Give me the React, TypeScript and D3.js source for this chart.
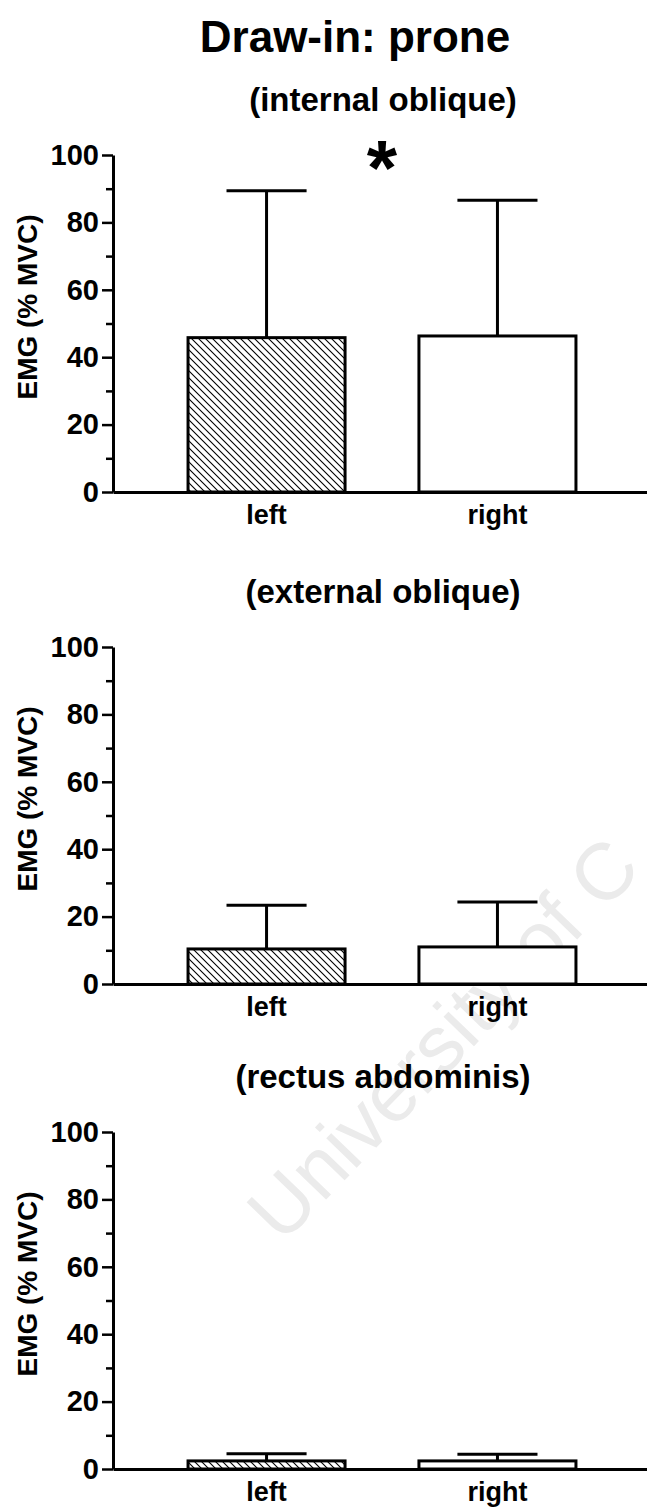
import React, { useEffect, useRef } from 'react';
import * as d3 from 'd3';

const categories = ['left', 'right'];
const muscles = ['(internal oblique)', '(external oblique)', '(rectus abdominis)'];
const leftMean = [45.8, 10.4, 2.4];
const leftErr = [43.6, 13.0, 2.1];
const rightMean = [46.3, 11.0, 2.4];
const rightErr = [40.3, 13.3, 2.0];
const majorTicks = [0, 20, 40, 60, 80, 100];
const minorTicks = [10, 30, 50, 70, 90];
const significant = [true, false, false];

const W = 647;
const H = 1510;
const FONT = '"Liberation Sans", Arial, Helvetica, sans-serif';

const App: React.FC = () => {
  const ref = useRef<SVGSVGElement>(null);

  useEffect(() => {
    const svg = d3.select(ref.current);
    svg.selectAll('*').remove();

    // hatch for the "left" bars
    const defs = svg.append('defs');
    defs.append('pattern')
      .attr('id', 'hatch')
      .attr('patternUnits', 'userSpaceOnUse')
      .attr('width', 7)
      .attr('height', 7)
      .append('path')
      .attr('d', 'M-1,-1 L8,8 M-1,6 L1,8 M6,-1 L8,1')
      .attr('stroke', '#000')
      .attr('stroke-width', 1.1);

    // scan watermark
    svg.append('text')
      .attr('transform', 'translate(282,1245) rotate(-46)')
      .attr('font-family', FONT)
      .attr('font-size', 80)
      .attr('fill', '#ebebeb')
      .text('University of C');

    svg.append('text')
      .attr('x', 355)
      .attr('y', 52)
      .attr('text-anchor', 'middle')
      .attr('font-family', FONT)
      .attr('font-weight', 'bold')
      .attr('font-size', 44)
      .text('Draw-in: prone');

    const baselines = [492, 984, 1469];
    const x = d3.scaleBand<string>()
      .domain(categories)
      .range([113, 651])
      .paddingInner(0.32)
      .paddingOuter(0.325);

    muscles.forEach((m, i) => {
      const y0 = baselines[i];
      const y = d3.scaleLinear().domain([0, 100]).range([y0, y0 - 337]);
      const g = svg.append('g');

      g.append('text')
        .attr('x', 383)
        .attr('y', y(100) - 44)
        .attr('text-anchor', 'middle')
        .attr('font-family', FONT)
        .attr('font-weight', 'bold')
        .attr('font-size', 33)
        .text(m);

      const data = [
        { cat: categories[0], mean: leftMean[i], err: leftErr[i], hatch: true },
        { cat: categories[1], mean: rightMean[i], err: rightErr[i], hatch: false },
      ];

      // error bars (upper only)
      data.forEach(d => {
        const cx = x(d.cat)! + x.bandwidth() / 2;
        const half = x.bandwidth() * 0.255;
        g.append('line')
          .attr('x1', cx).attr('x2', cx)
          .attr('y1', y(d.mean)).attr('y2', y(d.mean + d.err))
          .attr('stroke', '#000').attr('stroke-width', 3);
        g.append('line')
          .attr('x1', cx - half).attr('x2', cx + half)
          .attr('y1', y(d.mean + d.err)).attr('y2', y(d.mean + d.err))
          .attr('stroke', '#000').attr('stroke-width', 3);
      });

      g.selectAll('rect.bar')
        .data(data)
        .join('rect')
        .attr('class', 'bar')
        .attr('x', d => x(d.cat)!)
        .attr('y', d => y(d.mean))
        .attr('width', x.bandwidth())
        .attr('height', d => y(0) - y(d.mean))
        .attr('fill', d => (d.hatch ? 'url(#hatch)' : '#fff'))
        .attr('stroke', '#000')
        .attr('stroke-width', 3);

      // minor ticks
      const minor = g.append('g')
        .attr('transform', 'translate(113,0)')
        .call(d3.axisLeft(y).tickValues(minorTicks).tickSize(7).tickSizeOuter(0).tickFormat(() => ''));
      minor.select('.domain').remove();
      minor.selectAll('line').attr('stroke-width', 2.5);

      const yAxis = g.append('g')
        .attr('transform', 'translate(113,0)')
        .call(d3.axisLeft(y).tickValues(majorTicks).tickSize(11).tickSizeOuter(0).tickPadding(3));
      yAxis.select('.domain').attr('stroke-width', 3);
      yAxis.selectAll('line').attr('stroke-width', 2.5);
      yAxis.selectAll('text')
        .attr('font-family', FONT)
        .attr('font-weight', 'bold')
        .attr('font-size', 29)
        .attr('fill', '#000');

      const xAxis = g.append('g')
        .attr('transform', `translate(0,${y0})`)
        .call(d3.axisBottom(x).tickSize(0).tickSizeOuter(0).tickPadding(13));
      xAxis.select('.domain').attr('stroke-width', 3);
      xAxis.selectAll('text')
        .attr('font-family', FONT)
        .attr('font-weight', 'bold')
        .attr('font-size', 27)
        .attr('fill', '#000');

      g.append('text')
        .attr('transform', `translate(37,${y0 - 185}) rotate(-90)`)
        .attr('text-anchor', 'middle')
        .attr('font-family', FONT)
        .attr('font-weight', 'bold')
        .attr('font-size', 28)
        .text('EMG (% MVC)');

      if (significant[i]) {
        g.append('text')
          .attr('x', (x('left')! + x('right')! + x.bandwidth()) / 2)
          .attr('y', y(100) + 40)
          .attr('text-anchor', 'middle')
          .attr('font-family', FONT)
          .attr('font-weight', 'bold')
          .attr('font-size', 78)
          .text('*');
      }
    });
  }, []);

  return (
    <svg
      ref={ref}
      width={W}
      height={H}
      style={{ position: 'absolute', left: 0, top: 0, background: '#fff' }}
    />
  );
};

export default App;
